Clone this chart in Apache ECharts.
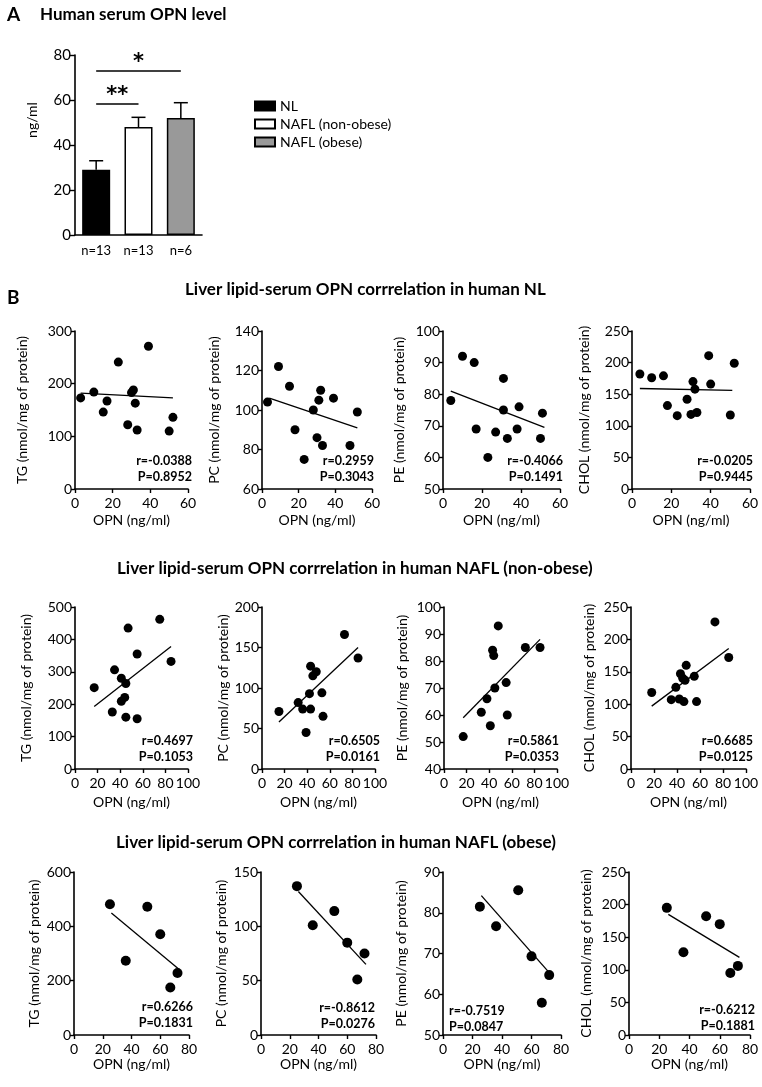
<!DOCTYPE html>
<html lang="en">
<head>
<meta charset="UTF-8">
<title>Human serum OPN</title>
<script src="https://cdn.jsdelivr.net/npm/echarts@6/dist/echarts.min.js"></script>
<style>
  html, body { margin: 0; padding: 0; background: #fff; }
</style>
</head>
<body>
<div id="main" style="width:762px;height:1087px;"></div>
<script>
// ---- panel A data ----
const barCategories = ['NL', 'NAFL (non-obese)', 'NAFL (obese)'];
const barNLabels = ['n=13', 'n=13', 'n=6'];
const barMeans = [29, 48, 52];
const barErrTop = [33, 52.3, 58.8];
const barColors = ['#000000', '#ffffff', '#999999'];
const sigPairs = [[0, 1], [0, 2]];
const sigHeights = [58.2, 72.9];
const sigLabels = ['**', '*'];

// ---- panel B data: NL ----
const nlOpnTG = [3, 10, 17, 15, 23, 31, 30, 32, 39, 28, 33, 50, 52];
const nlTG = [173, 184, 167, 146, 241, 188, 183, 163, 271, 122, 112, 110, 136];
const nlFitTG = [[3, 182], [52, 173]];
const nlOpnPC = [3, 9, 15, 18, 23, 28, 30, 31, 32, 33, 39, 48, 52];
const nlPC = [104, 122, 112, 90, 75, 100, 86, 105, 110, 82, 106, 82, 99];
const nlFitPC = [[4, 106], [52, 91]];
const nlOpnPE = [4, 10, 16, 17, 23, 27, 31, 31, 33, 38, 39, 50, 51];
const nlPE = [78, 92, 90, 69, 60, 68, 75, 85, 66, 69, 76, 66, 74];
const nlFitPE = [[4, 81], [52, 69.5]];
const nlOpnCHOL = [4, 10, 16, 18, 23, 28, 30, 31, 32, 33, 39, 40, 50, 52];
const nlCHOL = [182, 176, 179, 132, 116, 142, 118, 170, 158, 121, 211, 166, 117, 199];
const nlFitCHOL = [[4, 159], [51, 156]];

// ---- NAFL (non-obese) ----
const noOpnTG = [17, 33, 35, 41, 41, 44, 45, 45, 47, 55, 55, 75, 85];
const noTG = [251, 176, 306, 280, 209, 221, 160, 264, 435, 155, 355, 462, 332];
const noFitTG = [[17, 193], [85, 378]];
const noOpnPC = [15, 32, 36, 39, 42, 43, 43, 45, 48, 53, 54, 73, 85];
const noPC = [71, 82, 74, 45, 93, 74, 127, 115, 120, 94, 65, 166, 137];
const noFitPC = [[15, 58], [85, 150]];
const noOpnPE = [17, 33, 38, 41, 43, 44, 45, 48, 55, 56, 72, 85];
const noPE = [52, 61, 66, 56, 84, 82, 70, 93, 72, 60, 85, 85];
const noFitPE = [[17, 59], [85, 88]];
const noOpnCHOL = [18, 35, 39, 42, 43, 45, 46, 47, 48, 55, 57, 73, 85];
const noCHOL = [118, 107, 126, 108, 147, 140, 104, 137, 160, 143, 104, 227, 172];
const noFitCHOL = [[18, 97], [85, 186]];

// ---- NAFL (obese) ----
const obOpn = [25, 36, 51, 60, 67, 72];
const obTG = [481, 273, 472, 371, 175, 228];
const obFitTG = [[26, 449], [73, 242]];
const obPC = [137, 101, 114, 85, 51, 75];
const obFitPC = [[26, 132], [73, 65]];
const obPE = [81.5, 76.7, 85.5, 69.3, 57.9, 64.7];
const obFitPE = [[26, 84.2], [72, 65.3]];
const obCHOL = [195, 127, 182, 170, 95, 106];
const obFitCHOL = [[26, 185], [73, 119]];

const rowTitles = [
  'Liver lipid-serum OPN corrrelation in human NL',
  'Liver lipid-serum OPN corrrelation in human NAFL (non-obese)',
  'Liver lipid-serum OPN corrrelation in human NAFL (obese)'
];
const yNames = ['TG (nmol/mg of protein)', 'PC (nmol/mg of protein)',
  'PE (nmol/mg of protein)', 'CHOL (nmol/mg of protein)'];
const xName = 'OPN (ng/ml)';
const statR = [
  ['r=-0.0388', 'r=0.2959', 'r=-0.4066', 'r=-0.0205'],
  ['r=0.4697', 'r=0.6505', 'r=0.5861', 'r=0.6685'],
  ['r=0.6266', 'r=-0.8612', 'r=-0.7519', 'r=-0.6212']
];
const statP = [
  ['P=0.8952', 'P=0.3043', 'P=0.1491', 'P=0.9445'],
  ['P=0.1053', 'P=0.0161', 'P=0.0353', 'P=0.0125'],
  ['P=0.1831', 'P=0.0276', 'P=0.0847', 'P=0.1881']
];
const xMaxByRow = [60, 100, 80];
const yRanges = [
  [[0, 300, 100], [60, 140, 20], [50, 100, 10], [0, 250, 50]],
  [[0, 500, 100], [0, 200, 50], [40, 100, 10], [0, 250, 50]],
  [[0, 600, 200], [0, 150, 50], [50, 90, 10], [0, 250, 50]]
];
const panelData = [
  [[nlOpnTG, nlTG, nlFitTG], [nlOpnPC, nlPC, nlFitPC], [nlOpnPE, nlPE, nlFitPE], [nlOpnCHOL, nlCHOL, nlFitCHOL]],
  [[noOpnTG, noTG, noFitTG], [noOpnPC, noPC, noFitPC], [noOpnPE, noPE, noFitPE], [noOpnCHOL, noCHOL, noFitCHOL]],
  [[obOpn, obTG, obFitTG], [obOpn, obPC, obFitPC], [obOpn, obPE, obFitPE], [obOpn, obCHOL, obFitCHOL]]
];

// ---- layout ----
const FONT = 'Lato, "Open Sans", sans-serif';
const rowTops = [331, 607, 872];
const rowHeights = [158, 162, 163];
const colLefts = [[75, 262, 443, 632], [75, 262, 444, 631], [74, 261, 443, 629]];
const colWidths = [[113, 110, 117, 118], [113, 113, 113, 115], [115, 115, 118, 121]];
const yNameGaps = [[46, 41, 37, 41], [42, 30, 35, 35], [33, 33, 35, 36]];
const xNameGaps = [24, 26, 22];
const titleY = [290, 569, 843];
const titleX = [185, 117, 116];
const statY = [[469, 469, 469, 469], [749, 749, 749, 749], [1015, 1016, 1019, 1018]];
const statX = [[192, 374, 563, 753], [193, 380, 559, 753], [193, 375, 449, 755]];

const chart = echarts.init(document.getElementById('main'));

const axisLine = { show: true, lineStyle: { color: '#000', width: 1.6 } };
const axisTick = { show: true, inside: false, length: 4, lineStyle: { color: '#000', width: 1.4 } };

const grid = [{ left: 75, top: 55, width: 127, height: 180 }];
const xAxis = [{
  type: 'category', gridIndex: 0, data: barCategories,
  axisLine: axisLine, axisTick: { show: false },
  axisLabel: { formatter: (v, i) => barNLabels[i], color: '#000', fontSize: 13, fontFamily: FONT, margin: 9 }
}];
const yAxis = [{
  type: 'value', gridIndex: 0, min: 0, max: 80, interval: 20,
  name: 'ng/ml', nameLocation: 'middle', nameGap: 36, nameRotate: 90,
  nameTextStyle: { color: '#000', fontSize: 14, fontFamily: FONT, padding: [0, 0, 0, 50] },
  axisLine: axisLine, axisTick: { show: true, length: 5, lineStyle: { color: '#000', width: 1.4 } },
  splitLine: { show: false },
  axisLabel: { color: '#000', fontSize: 15, fontFamily: FONT, margin: 4 }
}];

const series = barCategories.map((name, i) => ({
  name: name, type: 'bar', xAxisIndex: 0, yAxisIndex: 0,
  barWidth: 28, barGap: '-100%',
  data: barMeans.map((v, j) => (j === i ? v : '-')),
  itemStyle: { color: barColors[i], borderColor: '#000', borderWidth: 1.5 },
  markLine: i === 0 ? {
    symbol: 'none', silent: true,
    lineStyle: { color: '#000', width: 1.5, type: 'solid' },
    label: { show: true, position: 'middle', color: '#000', fontSize: 21, fontWeight: 'bold', fontFamily: '"DejaVu Sans", sans-serif', distance: -2 },
    data: sigPairs.map((p, k) => [
      { coord: [p[0], sigHeights[k]], label: { formatter: sigLabels[k] } },
      { coord: [p[1], sigHeights[k]] }
    ])
  } : undefined
}));

series.push({
  type: 'custom', xAxisIndex: 0, yAxisIndex: 0, z: 5,
  data: barMeans.map((m, i) => [i, m, barErrTop[i]]),
  encode: { x: 0, y: [1, 2] },
  renderItem: function (params, api) {
    const base = api.coord([api.value(0), api.value(1)]);
    const top = api.coord([api.value(0), api.value(2)]);
    const st = { stroke: '#000', lineWidth: 1.5 };
    return {
      type: 'group',
      children: [
        { type: 'line', shape: { x1: base[0], y1: base[1], x2: top[0], y2: top[1] }, style: st },
        { type: 'line', shape: { x1: top[0] - 7, y1: top[1], x2: top[0] + 7, y2: top[1] }, style: st }
      ]
    };
  }
});

const graphic = [
  { type: 'text', x: 7, y: 15, style: { text: 'A', font: 'bold 19px ' + FONT, fill: '#000', verticalAlign: 'middle' } },
  { type: 'text', x: 40, y: 15, style: { text: 'Human serum OPN level', font: 'bold 17px ' + FONT, fill: '#000', verticalAlign: 'middle' } },
  { type: 'text', x: 7, y: 298, style: { text: 'B', font: 'bold 19px ' + FONT, fill: '#000', verticalAlign: 'middle' } }
];

for (let r = 0; r < 3; r++) {
  graphic.push({ type: 'text', x: titleX[r], y: titleY[r],
    style: { text: rowTitles[r], font: 'bold 17px ' + FONT, fill: '#000', verticalAlign: 'middle' } });
  for (let c = 0; c < 4; c++) {
    const gi = grid.length;
    const [xs, ys, fit] = panelData[r][c];
    const [ymin, ymax, yint] = yRanges[r][c];
    grid.push({ left: colLefts[r][c], top: rowTops[r], width: colWidths[r][c], height: rowHeights[r] });
    xAxis.push({
      type: 'value', gridIndex: gi, min: 0, max: xMaxByRow[r], interval: 20,
      name: xName, nameLocation: 'middle', nameGap: xNameGaps[r],
      nameTextStyle: { color: '#000', fontSize: 14, fontFamily: FONT },
      axisLine: axisLine, axisTick: axisTick, splitLine: { show: false },
      axisLabel: { color: '#000', fontSize: 14, fontFamily: FONT, margin: 7 }
    });
    yAxis.push({
      type: 'value', gridIndex: gi, min: ymin, max: ymax, interval: yint,
      name: yNames[c], nameLocation: 'middle', nameGap: yNameGaps[r][c], nameRotate: 90,
      nameTextStyle: { color: '#000', fontSize: 14, fontFamily: FONT },
      axisLine: axisLine, axisTick: axisTick, splitLine: { show: false },
      axisLabel: { color: '#000', fontSize: 14, fontFamily: FONT, margin: 3 }
    });
    series.push({
      type: 'scatter', xAxisIndex: gi, yAxisIndex: gi,
      symbol: 'circle', symbolSize: r === 2 ? 10 : 9,
      itemStyle: { color: '#000', opacity: 1 },
      data: xs.map((x, i) => [x, ys[i]])
    });
    series.push({
      type: 'line', xAxisIndex: gi, yAxisIndex: gi,
      showSymbol: false, symbol: 'none',
      lineStyle: { color: '#000', width: 1.3 },
      data: fit
    });
    const leftAligned = (r === 2 && c === 2);
    graphic.push({
      type: 'text', x: statX[r][c], y: statY[r][c],
      style: {
        text: statR[r][c] + '\n' + statP[r][c],
        font: 'bold 12.5px ' + FONT, lineHeight: 15.5, fill: '#000',
        align: leftAligned ? 'left' : 'right', verticalAlign: 'middle'
      }
    });
  }
}

chart.setOption({
  backgroundColor: '#fff',
  animation: false,
  legend: {
    data: barCategories, orient: 'vertical', left: 249, top: 94,
    itemWidth: 20, itemHeight: 9, itemGap: 4, icon: 'rect',
    textStyle: { color: '#000', fontSize: 14, fontFamily: FONT }
  },
  grid: grid,
  xAxis: xAxis,
  yAxis: yAxis,
  series: series,
  graphic: graphic
});
</script>
</body>
</html>
